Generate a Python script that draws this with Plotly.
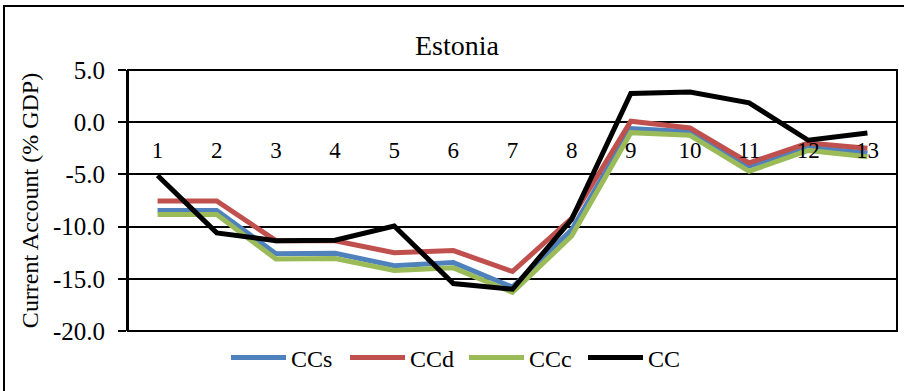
import plotly.graph_objects as go

# Periods on the horizontal axis
periods = list(range(1, 14))
period_labels = [str(p) for p in periods]

# Current account, % of GDP
ccs = [-8.45, -8.45, -12.6, -12.55, -13.75, -13.45, -15.8, -10.3, -0.6, -0.9, -4.2, -2.4, -2.95]
ccd = [-7.55, -7.55, -11.35, -11.35, -12.5, -12.3, -14.3, -9.2, 0.1, -0.55, -3.9, -2.0, -2.5]
ccc = [-8.85, -8.85, -13.1, -13.05, -14.2, -13.95, -16.3, -10.9, -1.0, -1.25, -4.7, -2.7, -3.3]
cc = [-5.1, -10.6, -11.35, -11.3, -9.95, -15.45, -16.0, -9.3, 2.76, 2.9, 1.86, -1.73, -1.03]

y_ticks = [5, 0, -5, -10, -15, -20]
y_tick_labels = [f"{v:.1f}" for v in y_ticks]

FONT = "Liberation Serif, Times New Roman, serif"

series = [
    ("CCs", ccs, "#4F81BD"),
    ("CCd", ccd, "#C0504D"),
    ("CCc", ccc, "#9BBB59"),
    ("CC", cc, "#000000"),
]

fig = go.Figure()
for name, vals, color in series:
    fig.add_trace(go.Scatter(
        x=periods, y=vals, name=name, mode="lines",
        line=dict(color=color, width=5),
    ))

y_min, y_max = -20, 5
zero_pos = (0 - y_min) / (y_max - y_min)

fig.update_layout(
    width=904, height=391,
    margin=dict(l=128, r=7, t=70, b=60, autoexpand=False),
    paper_bgcolor="white", plot_bgcolor="white",
    font=dict(family=FONT, color="black", size=23),
    title=dict(text="Estonia", x=0.5055, xanchor="center", xref="container",
               y=1 - 45 / 391, yanchor="middle", yref="container",
               font=dict(family=FONT, size=28, color="black")),
    showlegend=True,
    legend=dict(orientation="h", xref="container", yref="container",
                x=226 / 904, xanchor="left", y=1 - 358 / 391, yanchor="middle",
                font=dict(family=FONT, size=24, color="black"),
                itemwidth=55, entrywidth=49, entrywidthmode="pixels",
                bgcolor="rgba(0,0,0,0)"),
    xaxis=dict(
        range=[0.5, 13.5], tickvals=periods, ticktext=period_labels,
        showgrid=False, zeroline=False, showline=False,
        anchor="free", position=zero_pos,
        ticks="outside", ticklen=7, tickcolor="rgba(0,0,0,0)",
        tickfont=dict(family=FONT, size=23, color="black"),
    ),
    xaxis2=dict(
        range=[0.5, 13.5], overlaying="x",
        tickvals=[p + 0.5 for p in periods[:-1]],
        showticklabels=False, showgrid=False, zeroline=False,
        showline=True, linecolor="black", linewidth=2,
        anchor="free", position=zero_pos,
        ticks="outside", ticklen=6, tickwidth=2, tickcolor="black",
    ),
    yaxis=dict(
        range=[y_min, y_max], tickvals=y_ticks, ticktext=y_tick_labels,
        showgrid=True, gridcolor="black", gridwidth=1.5,
        zeroline=False, showline=True, linecolor="black", linewidth=2,
        ticks="outside", ticklen=8, tickwidth=2, tickcolor="black",
        ticklabelstandoff=8,
        tickfont=dict(family=FONT, size=25, color="black"),
        title=dict(text="Current Account (% GDP)", standoff=8,
                   font=dict(family=FONT, size=24, color="black")),
    ),
)

# plot-area frame and the outer chart border
fig.add_shape(type="rect", xref="paper", yref="paper", x0=0, x1=1, y0=0, y1=1,
              line=dict(color="black", width=2), layer="above")
fig.add_shape(type="rect", xref="paper", yref="paper",
              x0=(4 - 128) / 769, x1=(912 - 128) / 769,
              y0=(331 - 400) / 261, y1=(331 - 6) / 261,
              line=dict(color="black", width=2), layer="above")

fig.write_html("out.html")
